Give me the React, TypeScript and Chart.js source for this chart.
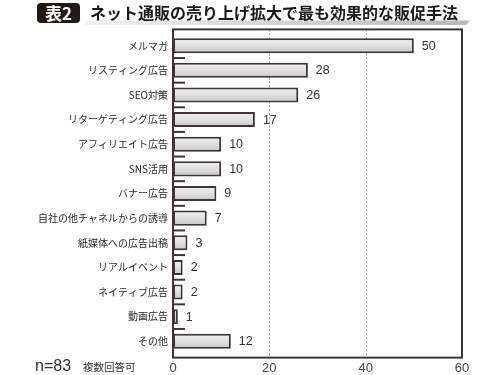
import React, { useEffect, useRef } from "react";
import { Chart, registerables } from "chart.js";

Chart.register(...registerables);

const categories = [
  "メルマガ",
  "リスティング広告",
  "SEO対策",
  "リターゲティング広告",
  "アフィリエイト広告",
  "SNS活用",
  "バナー広告",
  "自社の他チャネルからの誘導",
  "紙媒体への広告出稿",
  "リアルイベント",
  "ネイティブ広告",
  "動画広告",
  "その他",
];
const values = [50, 28, 26, 17, 10, 10, 9, 7, 3, 2, 2, 1, 12];
const xTicks = [0, 20, 40, 60];
const titleBadge = "表2";
const titleText = "ネット通販の売り上げ拡大で最も効果的な販促手法";
const footN = "n=83";
const footNote = "複数回答可";

const JP = '"Noto Sans CJK JP", "Noto Sans", sans-serif';
const DARK = "#3d3535";
const FRAME_PAD = 4;
const BAR_H = 15;

const decorPlugin = {
  id: "decor",
  beforeDatasetsDraw(chart: any) {
    const { ctx, chartArea } = chart;
    const xs = chart.scales.x;
    const top = chartArea.top - FRAME_PAD;
    const bottom = chartArea.bottom + FRAME_PAD;
    ctx.save();
    ctx.strokeStyle = "#9a9a9a";
    ctx.lineWidth = 1;
    ctx.setLineDash([2, 2]);
    xTicks.slice(1, -1).forEach((v) => {
      const x = Math.round(xs.getPixelForValue(v)) + 0.5;
      ctx.beginPath();
      ctx.moveTo(x, top);
      ctx.lineTo(x, bottom);
      ctx.stroke();
    });
    ctx.restore();
  },
  afterDatasetsDraw(chart: any) {
    const { ctx, chartArea } = chart;
    const top = chartArea.top - FRAME_PAD;
    const bottom = chartArea.bottom + FRAME_PAD;
    const left = chartArea.left;
    const right = chartArea.right;
    ctx.save();
    // value labels
    const meta = chart.getDatasetMeta(0);
    ctx.fillStyle = "#333";
    ctx.font = '12.5px "Liberation Sans", "Noto Sans", sans-serif';
    ctx.textBaseline = "middle";
    ctx.textAlign = "left";
    meta.data.forEach((el: any, i: number) => {
      ctx.fillText(String(values[i]), el.x + 8, el.y + 0.5);
    });
    // frame
    ctx.strokeStyle = DARK;
    ctx.lineWidth = 2;
    ctx.strokeRect(left, top, right - left, bottom - top);
    // left boundary ticks
    const step = (chartArea.bottom - chartArea.top) / categories.length;
    for (let i = 1; i < categories.length; i++) {
      const y = chartArea.top + i * step;
      ctx.beginPath();
      ctx.moveTo(left, y);
      ctx.lineTo(left + 12, y);
      ctx.stroke();
    }
    // title stripe
    const g = ctx.createLinearGradient(85, 0, 468, 0);
    g.addColorStop(0, "#f0f0f0");
    g.addColorStop(1, "#b8b8b8");
    ctx.fillStyle = g;
    ctx.beginPath();
    ctx.moveTo(85, 20.5);
    ctx.lineTo(470, 20.5);
    ctx.lineTo(466, 25);
    ctx.lineTo(85, 25);
    ctx.closePath();
    ctx.fill();
    // badge
    ctx.fillStyle = "#231815";
    ctx.beginPath();
    ctx.roundRect(37, 3, 43, 20, 4);
    ctx.fill();
    ctx.fillStyle = "#fff";
    ctx.font = "bold 17px " + JP;
    ctx.textAlign = "center";
    ctx.textBaseline = "middle";
    ctx.fillText(titleBadge, 58.5, 13.5);
    // title
    ctx.fillStyle = "#1a1a1a";
    ctx.textAlign = "left";
    ctx.font = "bold 16px " + JP;
    ctx.fillText(titleText, 90, 12.5);
    // footer
    ctx.fillStyle = "#333";
    ctx.font = '16px "Liberation Sans", sans-serif';
    ctx.fillText(footN, 35, 367);
    ctx.font = "10.5px " + JP;
    ctx.fillText(footNote, 83, 367);
    ctx.restore();
  },
};

export default function App() {
  const ref = useRef<HTMLCanvasElement>(null);
  useEffect(() => {
    const canvas = ref.current!;
    const chart = new Chart(canvas, {
      type: "bar",
      data: {
        labels: categories,
        datasets: [
          {
            data: values,
            backgroundColor: (c: any) => {
              const ch = c.chart;
              const ys = ch.scales && ch.scales.y;
              if (!ys || c.type !== "data") return "#dcdcdc";
              const cy = ys.getPixelForValue(c.dataIndex);
              if (!Number.isFinite(cy)) return "#dcdcdc";
              const g = ch.ctx.createLinearGradient(0, cy - BAR_H / 2, 0, cy + BAR_H / 2);
              g.addColorStop(0, "#f2f2f2");
              g.addColorStop(0.5, "#e0e0e0");
              g.addColorStop(1, "#c6c6c6");
              return g;
            },
            borderColor: DARK,
            borderWidth: 2,
            borderSkipped: false,
            barPercentage: 0.61,
            categoryPercentage: 1,
          },
        ],
      },
      options: {
        indexAxis: "y",
        responsive: false,
        animation: false,
        layout: { padding: { top: 33.4, right: 38, left: 0, bottom: 0 } },
        plugins: { legend: { display: false }, tooltip: { enabled: false } },
        scales: {
          x: {
            min: 0,
            max: 60,
            afterFit: (s: any) => {
              s.height = 21.4;
            },
            afterBuildTicks: (s: any) => {
              s.ticks = xTicks.map((v) => ({ value: v }));
            },
            grid: { display: false, tickLength: 0 },
            border: { display: false },
            ticks: {
              padding: 7,
              color: "#444",
              font: { family: '"Liberation Sans", "Noto Sans", sans-serif', size: 13 },
              maxRotation: 0,
            },
          },
          y: {
            afterFit: (s: any) => {
              s.width = 173;
            },
            grid: { display: false, tickLength: 0 },
            border: { display: false },
            ticks: {
              padding: 5,
              color: "#2a2a2a",
              autoSkip: false,
              font: { family: JP, size: 10 },
            },
          },
        },
      },
      plugins: [decorPlugin],
    });
    return () => chart.destroy();
  }, []);
  return (
    <div style={{ position: "fixed", left: 0, top: 0, width: 500, height: 375, background: "#fff" }}>
      <canvas ref={ref} width={500} height={375} style={{ width: 500, height: 375 }} />
    </div>
  );
}
